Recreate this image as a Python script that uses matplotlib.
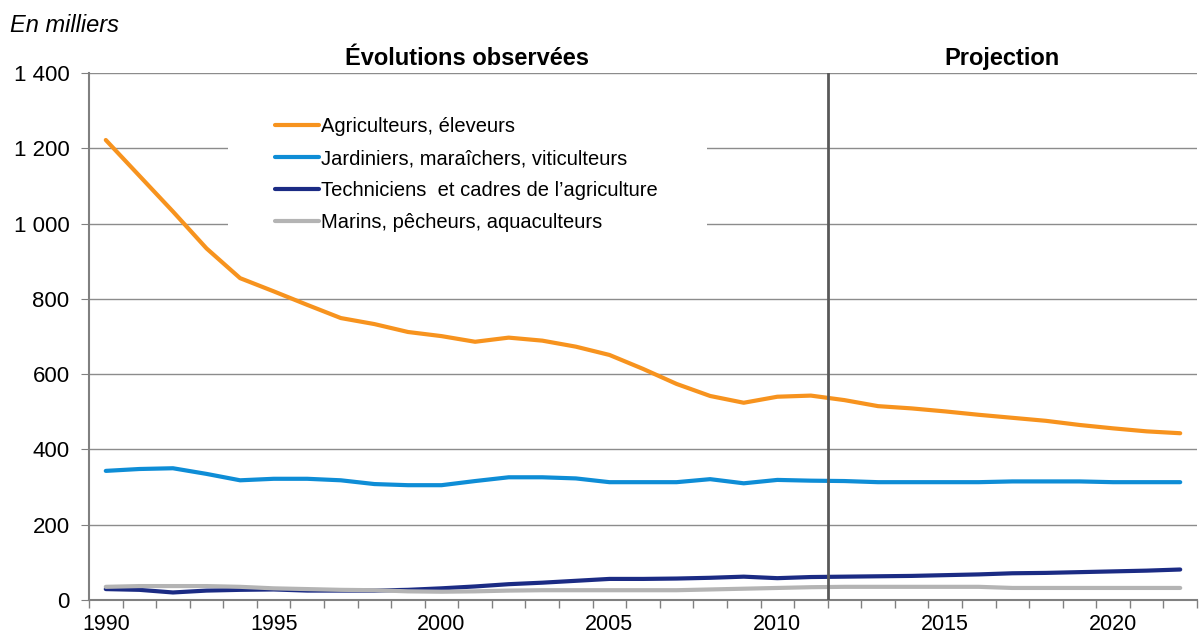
import numpy as np
import matplotlib
matplotlib.use("Agg")
import matplotlib.pyplot as plt
from matplotlib.ticker import FuncFormatter, FixedLocator
from matplotlib.patches import Rectangle

plt.rcParams['font.family'] = ['Liberation Sans', 'DejaVu Sans']

years = list(range(1990, 2023))

agriculteurs = [1222, 1127, 1032, 934, 855, 820, 784, 749, 733, 712, 701,
                686, 697, 689, 673, 651, 614, 574, 542, 524, 540, 543,
                531, 515, 509, 501, 492, 484, 476, 465, 456, 448, 443]
jardiniers = [343, 348, 350, 335, 318, 322, 322, 318, 308, 305, 305,
              316, 326, 326, 323, 313, 313, 313, 321, 310, 319, 317,
              316, 313, 313, 313, 313, 315, 315, 315, 313, 313, 313]
techniciens = [29, 27, 20, 25, 27, 28, 25, 25, 25, 27, 31,
               36, 42, 46, 51, 56, 56, 57, 59, 62, 58, 61,
               62, 63, 64, 66, 68, 71, 72, 74, 76, 78, 81]
marins = [35, 37, 37, 37, 35, 31, 29, 27, 26, 23, 22,
          23, 25, 26, 26, 26, 26, 26, 28, 30, 32, 34,
          35, 35, 35, 35, 35, 32, 32, 32, 32, 32, 32]

labels = ["Agriculteurs, éleveurs", "Jardiniers, maraîchers, viticulteurs",
          "Techniciens  et cadres de l\u2019agriculture", "Marins, pêcheurs, aquaculteurs"]
colors = ["#F7931E", "#0E8DD6", "#1B2B84", "#B4B4B4"]

fig = plt.figure(figsize=(11.99, 6.34), dpi=100)
ax = fig.add_axes([89/1199, 1 - 600/634, 1108/1199, 527/634])

for vals, lab, col in zip([agriculteurs, jardiniers, techniciens, marins], labels, colors):
    ax.plot(years, vals, color=col, lw=3.0, label=lab, solid_capstyle='round', zorder=3)

ax.set_xlim(1989.5, 2022.5)
ax.set_ylim(0, 1400)
ax.set_yticks(range(0, 1401, 200))
ax.yaxis.set_major_formatter(FuncFormatter(lambda v, p: f"{int(v):,}".replace(",", " ")))
ax.grid(axis='y', color='#8C8C8C', lw=1)
ax.set_axisbelow(True)

ax.xaxis.set_major_locator(FixedLocator([1990, 1995, 2000, 2005, 2010, 2015, 2020]))
ax.xaxis.set_minor_locator(FixedLocator(np.arange(1989.5, 2023, 1)))
ax.tick_params(axis='x', which='major', length=0, labelsize=15.5, pad=10)
ax.tick_params(axis='x', which='minor', length=6, color='#808080', width=1)
ax.tick_params(axis='y', length=6, color='#808080', labelsize=16, pad=8)

for s in ['top', 'right']:
    ax.spines[s].set_visible(False)
for s in ['left', 'bottom']:
    ax.spines[s].set_color('#808080')
    ax.spines[s].set_linewidth(1.5)

ax.axvline(2011.5, color='#595959', lw=2, zorder=4)

tr = ax.get_xaxis_transform()
ax.text(2000.75, 1.028, "Évolutions observées", transform=tr, ha='center', va='center',
        fontsize=17, fontweight='bold')
ax.text(2016.7, 1.028, "Projection", transform=tr, ha='center', va='center',
        fontsize=17, fontweight='bold')
fig.text(10/1199, 1 - 25/634, "En milliers", fontsize=17, style='italic', va='center')

# white box behind the legend (hides the gridlines there)
ax.add_patch(Rectangle(((228 - 89) / 1108, (600 - 250) / 527), (707 - 228) / 1108, 145 / 527,
                       transform=ax.transAxes, facecolor='white', edgecolor='none', zorder=2))

leg = ax.legend(loc='upper left', bbox_to_anchor=((275 - 89) / 1108, (600 - 117) / 527),
                fontsize=14.5, frameon=False, borderpad=0, borderaxespad=0,
                handlelength=2.2, handletextpad=0.1, labelspacing=0.65)
leg.set_zorder(5)

fig.savefig("out.png", dpi=100)
